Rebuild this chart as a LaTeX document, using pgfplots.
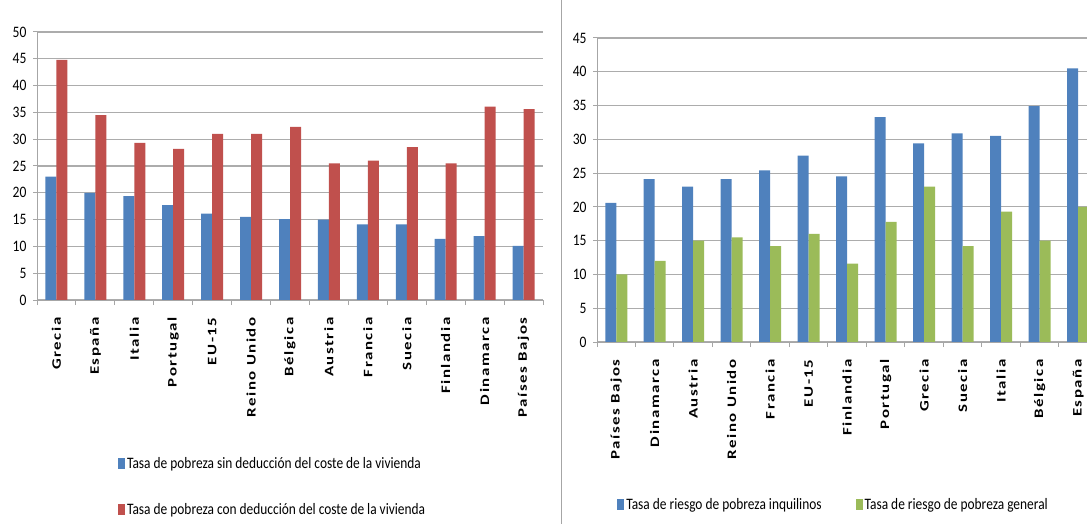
\documentclass[border=0pt]{standalone}
\usepackage{fontspec}
\setmainfont{Carlito}
\newfontfamily\ytf[FakeStretch=0.85]{Carlito}
\newfontfamily\xtf[FakeStretch=1.3,LetterSpace=12]{Carlito}
\newfontfamily\lgf[FakeStretch=0.84]{Carlito}
\usepackage{pgfplots}
\pgfplotsset{compat=1.18}
\definecolor{cblue}{HTML}{4F81BD}
\definecolor{cred}{HTML}{C0504D}
\definecolor{cgreen}{HTML}{9BBB59}
\definecolor{cgrid}{HTML}{ACACAC}
\definecolor{caxis}{HTML}{A6A6A6}
\pgfplotsset{
  common/.style={
    anchor=south west, scale only axis,
    xmin=-0.5, ymin=0,
    xtick={0,...,12},
    ybar=0pt, bar width=11bp,
    ymajorgrids, grid style={draw=cgrid, line width=1.2bp},
    axis x line*=bottom, axis y line*=left,
    axis line style={draw=caxis, line width=1bp, -},
    tick align=outside,
    major tick length=4bp,
    ytick style={draw=caxis, line width=1bp},
    xtick style={draw=none},
    extra x ticks={-0.5,0.5,1.5,2.5,3.5,4.5,5.5,6.5,7.5,8.5,9.5,10.5,11.5,12.5},
    extra x tick labels={},
    extra x tick style={grid=none, xtick style={draw=caxis, line width=1bp}, major tick length=5bp},
    /pgf/number format/assume math mode=true,
    yticklabel style={font=\ytf\fontsize{16}{16}\selectfont, xshift=-3bp},
    xticklabel style={font=\xtf\bfseries\fontsize{13}{13}\selectfont, rotate=90, anchor=east, xshift=-10bp},
    legend image code/.code={\fill[##1] (0bp,-5.5bp) rectangle (7bp,5.5bp);},
    legend style={draw=none, fill=none, font=\lgf\fontsize{16}{16}\selectfont,
      /tikz/every odd column/.append style={column sep=0bp}},
    legend cell align=left,
  }
}
\begin{document}
\begin{tikzpicture}
\useasboundingbox (0,0) rectangle (1087bp,524bp);
\begin{axis}[common,
  at={(37bp,224bp)}, width=506bp, height=268bp,
  xmax=12.5, ymax=50, ytick={0,5,...,50},
  xticklabels={Grecia,España,Italia,Portugal,EU-15,Reino Unido,Bélgica,Austria,Francia,Suecia,Finlandia,Dinamarca,Países Bajos},
  legend style={at={(0.154,-0.57)}, anchor=north west, row sep=30bp},
]
\addplot[draw=none, fill=cblue] coordinates {(0,23.0) (1,20.0) (2,19.4) (3,17.7) (4,16.1) (5,15.5) (6,15.1) (7,15.0) (8,14.1) (9,14.1) (10,11.4) (11,11.9) (12,10.1)};
\addplot[draw=none, fill=cred] coordinates {(0,44.8) (1,34.5) (2,29.3) (3,28.2) (4,31.0) (5,31.0) (6,32.3) (7,25.5) (8,26.0) (9,28.5) (10,25.5) (11,36.1) (12,35.6)};
\legend{Tasa de pobreza sin deducción del coste de la vivienda, Tasa de pobreza con deducción del coste de la vivienda}
\end{axis}
\begin{axis}[common,
  at={(597bp,182bp)}, width=490bp, height=304bp,
  xmax=12.23, ymax=45, ytick={0,5,...,45},
  xticklabels={Países Bajos,Dinamarca,Austria,Reino Unido,Francia,EU-15,Finlandia,Portugal,Grecia,Suecia,Italia,Bélgica,España},
  legend columns=2,
  legend style={at={(0.035,-0.536)}, anchor=west,
    /tikz/every even column/.append style={column sep=32bp}},
]
\addplot[draw=none, fill=cblue] coordinates {(0,20.6) (1,24.1) (2,23.0) (3,24.1) (4,25.4) (5,27.6) (6,24.5) (7,33.3) (8,29.4) (9,30.9) (10,30.5) (11,34.9) (12,40.5)};
\addplot[draw=none, fill=cgreen] coordinates {(0,10.0) (1,12.0) (2,15.0) (3,15.5) (4,14.2) (5,16.0) (6,11.6) (7,17.8) (8,23.0) (9,14.2) (10,19.3) (11,15.0) (12,20.0)};
\legend{Tasa de riesgo de pobreza inquilinos, Tasa de riesgo de pobreza general}
\end{axis}
\draw[draw=caxis, line width=1bp] (561bp,0bp) -- (561bp,524bp);
\end{tikzpicture}
\end{document}
